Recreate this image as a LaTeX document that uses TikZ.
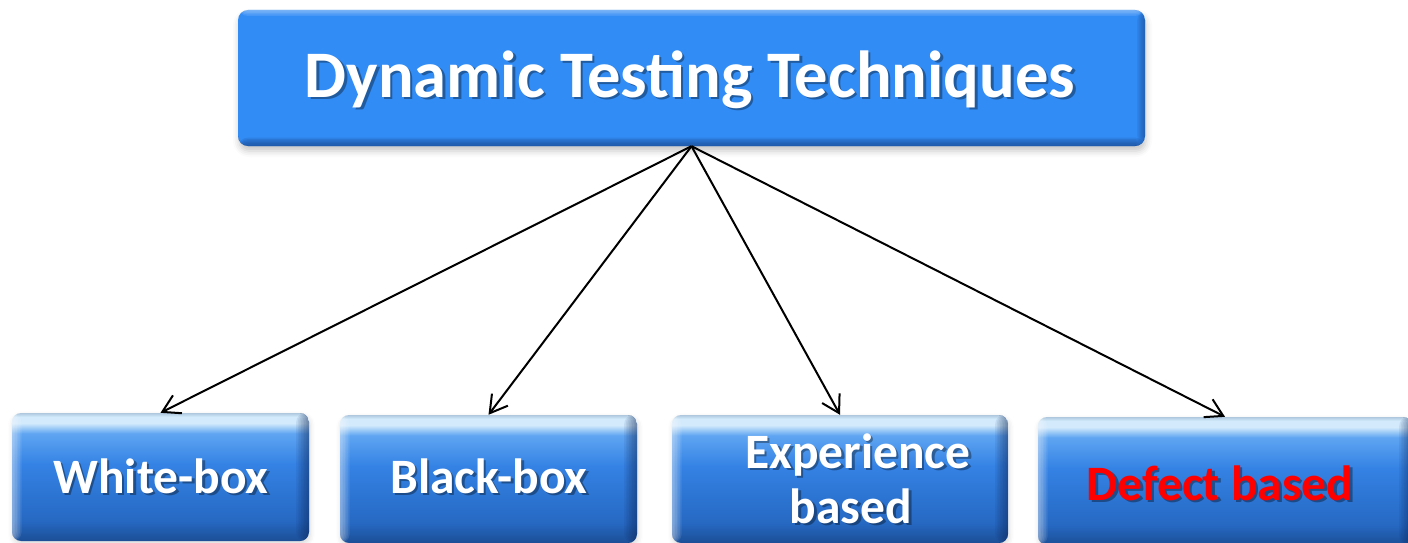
\documentclass[tikz,border=0pt]{standalone}
\usepackage{fontspec}
\setmainfont{Carlito}
\usetikzlibrary{arrows.meta,shadows.blur}
\definecolor{topblue}{RGB}{50,140,245}
\definecolor{topdark}{RGB}{25,70,140}
\definecolor{bdark}{RGB}{28,78,150}
\definecolor{bmidtwo}{RGB}{38,105,195}
\definecolor{bmid}{RGB}{52,130,228}
\definecolor{blight}{RGB}{95,165,242}
\definecolor{bhigh}{RGB}{210,234,252}
\definecolor{bedge}{RGB}{175,200,222}
\definecolor{edgedark}{RGB}{15,40,90}
\definecolor{defred}{RGB}{255,0,0}
\pgfdeclareverticalshading{btnshade}{100bp}{color(0bp)=(bdark); color(25bp)=(bdark); color(33bp)=(bmidtwo); color(55bp)=(bmid); color(67bp)=(blight); color(71bp)=(bhigh); color(73.5bp)=(bhigh); color(75bp)=(bedge); color(100bp)=(bedge)}
\newcommand\shtext[5]{%
  \node[#4, text=black, text opacity=0.35] at (#2+2.5,#3+2.5) {#5};
  \node[#4] (#1) at (#2,#3) {#5};}
\begin{document}
\begin{tikzpicture}[x=1pt,y=-1pt,
  topbox/.style={rectangle, rounded corners=10pt, fill=topblue, inner sep=0pt,
    minimum width=907pt, minimum height=136pt,
    blur shadow={shadow xshift=1pt, shadow yshift=-5pt, shadow blur radius=6pt, shadow opacity=22},
    path picture={
      \foreach \i in {1,...,6}
        \fill[topdark, fill opacity=0.16] (path picture bounding box.south west) rectangle ([yshift=\i*1.4pt]path picture bounding box.south east);
      \foreach \i in {1,...,6}
        \fill[topdark, fill opacity=0.12] ([xshift=-\i*1.3pt]path picture bounding box.north east) rectangle (path picture bounding box.south east);
      \foreach \i in {1,...,4}
        \fill[white, fill opacity=0.1] (path picture bounding box.north west) rectangle ([yshift=-\i*1.5pt]path picture bounding box.north east);
    }},
  btn/.style={rectangle, rounded corners=9pt, shade, shading=btnshade, inner sep=0pt,
    minimum width=#1, minimum height=128pt,
    blur shadow={shadow xshift=1pt, shadow yshift=-3pt, shadow blur radius=5pt, shadow opacity=15},
    path picture={
      \foreach \i in {1,...,8}
        \fill[edgedark, fill opacity=0.08] ([xshift=-\i*1.6pt]path picture bounding box.north east) rectangle (path picture bounding box.south east);
      \foreach \i in {1,...,6}
        \fill[white, fill opacity=0.09] (path picture bounding box.north west) rectangle ([xshift=\i*1.6pt]path picture bounding box.south west);
    }},
  toplbl/.style={text=white, font=\bfseries\fontsize{66.5}{70}\selectfont, anchor=base, inner sep=0pt},
  lbl/.style={text=white, font=\bfseries\fontsize{49.5}{55}\selectfont, anchor=base, inner sep=0pt},
  redlbl/.style={lbl, text=defred},
  arr/.style={draw=black, line width=2pt, -{Straight Barb[length=17pt,width=20pt,line width=2pt]}}
]
\useasboundingbox (0,0) rectangle (1408,543);
\clip (0,0) rectangle (1408,543);

\node[topbox] (top) at (691.5,78) {};
\node[btn=297pt] (white) at (160.5,477) {};
\node[btn=297pt] (black) at (488.5,479) {};
\node[btn=336pt] (exp) at (840,479) {};
\node[btn=374pt] (defect) at (1225,481) {};

\shtext{ttop}{690}{97}{toplbl}{Dynamic Testing Techniques}
\shtext{twhite}{161}{493}{lbl}{White-box}
\shtext{tblack}{489}{493}{lbl}{Black-box}
\shtext{texpa}{858}{468}{lbl}{Experience}
\shtext{texpb}{851}{523}{lbl}{based}
\shtext{tdefect}{1220}{500}{redlbl}{Defect based}

\draw[arr] (top.south) -- (white.north);
\draw[arr] (top.south) -- (black.north);
\draw[arr] (top.south) -- (exp.north);
\draw[arr] (top.south) -- (defect.north);
\end{tikzpicture}
\end{document}
